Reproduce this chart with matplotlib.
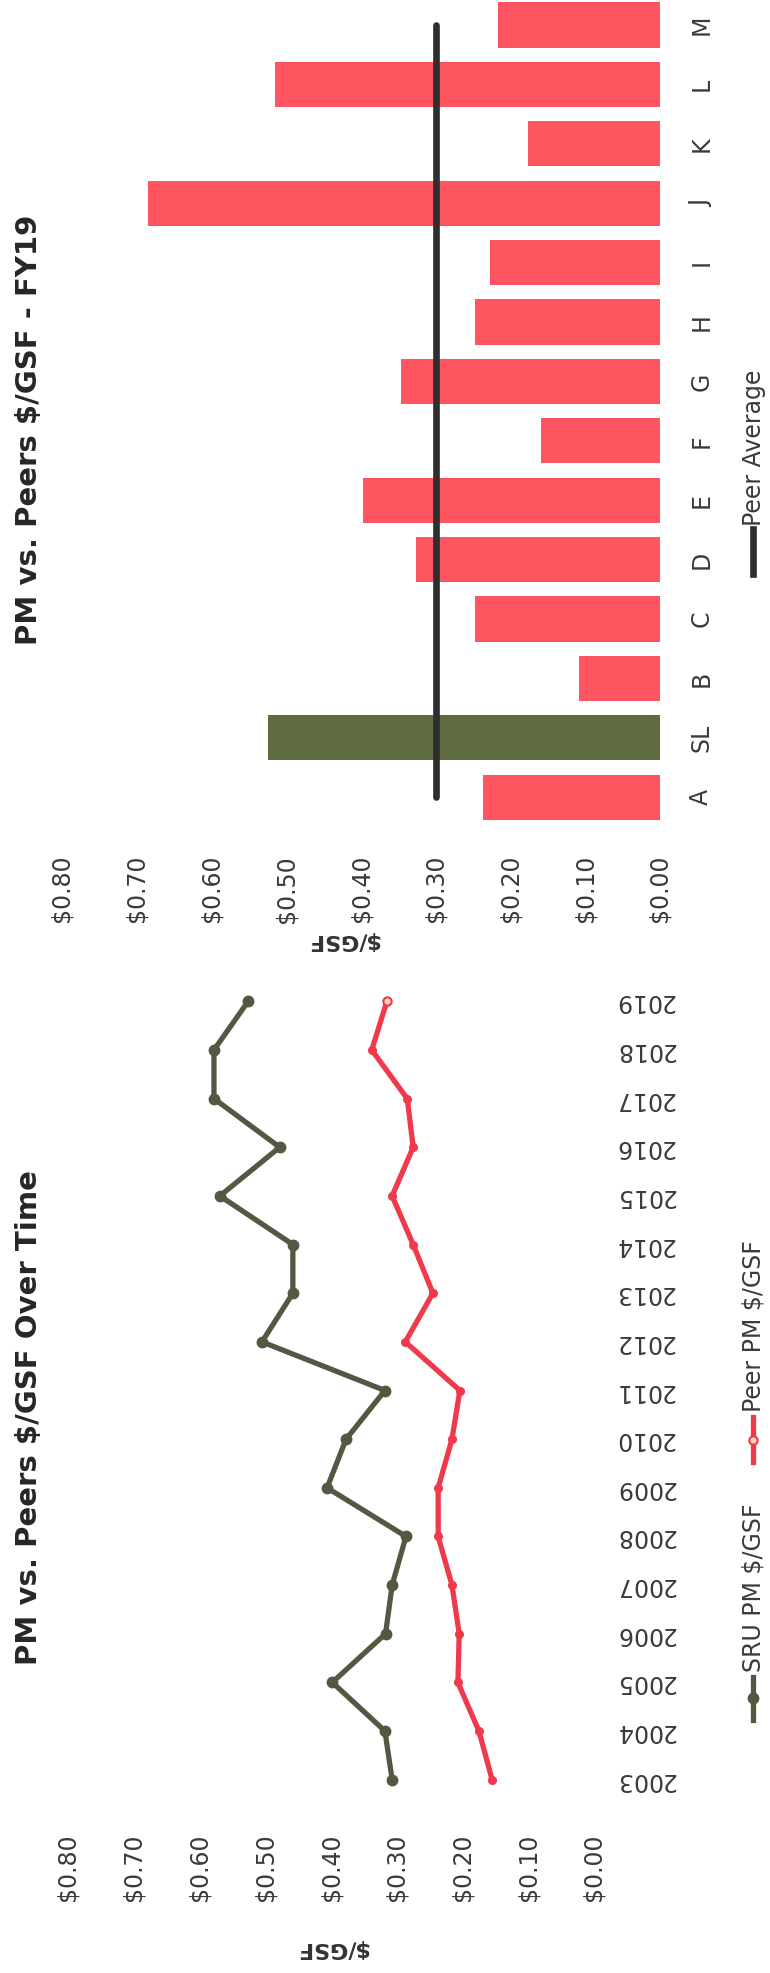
import matplotlib
matplotlib.use("Agg")
import matplotlib.pyplot as plt
from matplotlib.lines import Line2D

plt.rcParams["font.family"] = ["DejaVu Sans"]

# bar chart: FY19 $/GSF by school
categories = ["A", "SL", "B", "C", "D", "E", "F", "G", "H", "I", "J", "K", "L", "M"]
fy19_values = [0.237, 0.525, 0.109, 0.248, 0.327, 0.397, 0.159, 0.347,
               0.248, 0.228, 0.685, 0.177, 0.515, 0.217]
peer_average = 0.30

# line chart: $/GSF over time
years = list(range(2003, 2020))
sru_pm = [0.307, 0.318, 0.398, 0.317, 0.307, 0.286, 0.406, 0.377, 0.318,
          0.505, 0.458, 0.458, 0.569, 0.478, 0.578, 0.578, 0.526]
peer_pm = [0.155, 0.175, 0.207, 0.205, 0.216, 0.237, 0.237, 0.216, 0.204,
           0.287, 0.245, 0.275, 0.307, 0.275, 0.284, 0.338, 0.315]

value_ticks = [0.0, 0.1, 0.2, 0.3, 0.4, 0.5, 0.6, 0.7, 0.8]
value_labels = ["$%.2f" % v for v in value_ticks]

RED = "#FF5560"
GREEN_BAR = "#5E6B3E"
SRU_LINE = "#535843"
PEER_LINE = "#F03A4C"
TXT = "#3a3a3a"

W, H = 770, 1973
fig = plt.figure(figsize=(W / 100, H / 100), dpi=100)


def fx(x):
    return x / W


def fy(y):
    return 1 - y / H


def axes_px(x0, y0, x1, y1):
    return [fx(x0), fy(y1), (x1 - x0) / W, (y1 - y0) / H]


# ---- bar chart (top of page, rotated) ----
ax1 = fig.add_axes(axes_px(62, 0, 660, 827))
idx = list(range(len(categories)))
colors = [GREEN_BAR if c == "SL" else RED for c in categories]
ax1.barh(idx, fy19_values, height=0.76, color=colors, zorder=2)
ax1.plot([peer_average] * len(idx), idx, color="#2e2e2e", lw=4.8,
         solid_capstyle="round", zorder=3)
ax1.set_xlim(0.8, 0)
ax1.set_ylim(-0.5, 13.42)
ax1.set_xticks(value_ticks)
ax1.set_xticklabels(value_labels, rotation=90, fontsize=17, color=TXT)
ax1.yaxis.tick_right()
ax1.set_yticks(idx)
ax1.set_yticklabels(categories, rotation=90, fontsize=17, color=TXT, va="center")
ax1.tick_params(axis="x", length=0, pad=20)
ax1.tick_params(axis="y", length=0, pad=21)
for s in ax1.spines.values():
    s.set_visible(False)

fig.text(fx(29), fy(430), "PM vs. Peers $/GSF - FY19", rotation=90,
         fontsize=21, fontweight="bold", color="#262626", ha="center", va="center")
fig.text(fx(343), fy(940), "$/GSF", rotation=180, fontsize=16,
         fontweight="bold", color="#333333", ha="center", va="center")

# legend: Peer Average
fig.add_artist(Line2D([fx(753), fx(753)], [fy(529), fy(574)],
                      transform=fig.transFigure, color="#2e2e2e", lw=4.8))
fig.text(fx(754), fy(526), "Peer Average", rotation=90, fontsize=17,
         color=TXT, ha="center", va="bottom")

# ---- line chart (bottom of page, rotated) ----
ax2 = fig.add_axes(axes_px(68, 977, 594, 1804))
ax2.plot(sru_pm, years, color=SRU_LINE, lw=3.8, marker="o", ms=7.5,
         zorder=3)
ax2.plot(peer_pm, years, color=PEER_LINE, lw=3.8, marker="o", ms=5.5,
         zorder=3)
ax2.plot([peer_pm[-1]], [years[-1]], ls="none", marker="o", ms=6,
         mfc="#FCD5B8", mec=PEER_LINE, mew=1.5, zorder=4)
ax2.set_xlim(0.8, 0)
ax2.set_ylim(2002.5, 2019.5)
ax2.set_xticks(value_ticks)
ax2.set_xticklabels(value_labels, rotation=90, fontsize=17, color=TXT)
ax2.yaxis.tick_right()
ax2.set_yticks(years)
ax2.set_yticklabels([str(y) for y in years], rotation=180, fontsize=17,
                    color=TXT, va="center")
ax2.tick_params(axis="x", length=0, pad=21)
ax2.tick_params(axis="y", length=0, pad=15)
for s in ax2.spines.values():
    s.set_visible(False)

fig.text(fx(29), fy(1418), "PM vs. Peers $/GSF Over Time", rotation=90,
         fontsize=21, fontweight="bold", color="#262626", ha="center", va="center")
fig.text(fx(332), fy(1948), "$/GSF", rotation=180, fontsize=16,
         fontweight="bold", color="#333333", ha="center", va="center")

# legend: series
fig.add_artist(Line2D([fx(753), fx(753)], [fy(1677), fy(1720)],
                      transform=fig.transFigure, color=SRU_LINE, lw=3.8))
fig.add_artist(Line2D([fx(753)], [fy(1698)], transform=fig.transFigure,
                      color=SRU_LINE, marker="o", ms=7.5))
fig.text(fx(754), fy(1672), "SRU PM $/GSF", rotation=90, fontsize=17,
         color=TXT, ha="center", va="bottom")

fig.add_artist(Line2D([fx(753), fx(753)], [fy(1417), fy(1462)],
                      transform=fig.transFigure, color=PEER_LINE, lw=3.8))
fig.add_artist(Line2D([fx(753)], [fy(1440)], transform=fig.transFigure,
                      marker="o", ms=6, mfc="#FCD5B8", mec=PEER_LINE, mew=1.5))
fig.text(fx(754), fy(1412), "Peer PM $/GSF", rotation=90, fontsize=17,
         color=TXT, ha="center", va="bottom")

fig.savefig("out.png", dpi=100)
